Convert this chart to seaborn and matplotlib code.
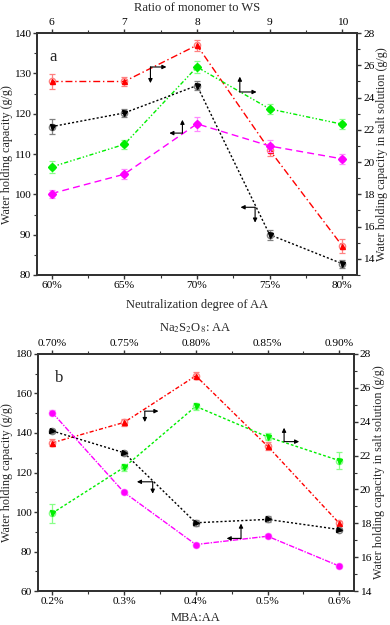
import numpy as np
import pandas as pd
import matplotlib
matplotlib.use("Agg")
import matplotlib.pyplot as plt
import seaborn as sns

# ---- data, panel a ----
a_bottom = ['60%', '65%', '70%', '75%', '80%']
a_top = ['6', '7', '8', '9', '10']
a_black = [116.8, 120.2, 127.0, 90.0, 82.8]      # left axis
a_black_err = [1.8, 1.0, 1.2, 1.2, 1.0]
a_pink = [100.2, 105.0, 117.5, 112.0, 108.8]     # left axis
a_pink_err = [1.0, 1.2, 1.8, 1.5, 1.2]
a_red = [25.0, 25.0, 27.25, 20.75, 14.8]         # right axis
a_red_err = [0.45, 0.3, 0.35, 0.4, 0.45]
a_green = [19.7, 21.1, 25.9, 23.3, 22.35]        # right axis
a_green_err = [0.4, 0.3, 0.35, 0.3, 0.3]

# ---- data, panel b ----
b_bottom = ['0.2%', '0.3%', '0.4%', '0.5%', '0.6%']
b_top = ['0.70%', '0.75%', '0.80%', '0.85%', '0.90%']
b_black = [141.0, 130.0, 94.6, 96.3, 91.2]       # left axis
b_black_err = [1.0, 1.0, 1.5, 1.5, 1.0]
b_pink = [150.3, 110.0, 83.6, 87.8, 72.7]        # left axis
b_pink_err = [1.5, 1.0, 1.0, 1.0, 1.2]
b_red = [22.75, 23.95, 26.7, 22.55, 18.0]        # right axis
b_red_err = [0.2, 0.2, 0.2, 0.25, 0.15]
b_green = [18.6, 21.3, 24.9, 23.1, 21.7]         # right axis
b_green_err = [0.55, 0.2, 0.2, 0.2, 0.5]

sns.set_theme(style="ticks")
plt.rcParams['font.family'] = ['Liberation Serif', 'DejaVu Serif']
plt.rcParams['mathtext.fontset'] = 'stix'

edge = '#333333'
fig = plt.figure(figsize=(3.9, 6.25), dpi=100)


def series(ax, vals, err, col, light, mk, ls):
    x = np.arange(len(vals))
    df = pd.DataFrame({'x': x, 'y': vals})
    sns.lineplot(data=df, x='x', y='y', ax=ax, color=col, linestyle=ls, lw=1.0, zorder=2)
    ax.errorbar(x, vals, yerr=err, fmt='o', mfc='none', mec=light, ms=4.5,
                ecolor=light, elinewidth=0.9, capsize=2.5, capthick=0.9, zorder=3)
    ax.plot(x, vals, linestyle='none', marker=mk, color=col, ms=3.6, zorder=4)


def arrow(ax, x, y, dx, dy):
    ax.annotate('', xy=(x + dx, y + dy), xytext=(x, y),
                arrowprops=dict(arrowstyle='-|>', color='black', lw=0.8,
                                mutation_scale=6, shrinkA=0, shrinkB=0))


def panel(rect, ylim_l, yticks_l, ylim_r, yticks_r, bot, top, xlab, toplab, letter, lx, bpad, ylx):
    ax = fig.add_axes(rect)
    axr = ax.twinx()
    axt = ax.twiny()
    for a in (ax, axr, axt):
        a.set_xlim(-0.2, 4.2)
        for s in a.spines.values():
            s.set_color(edge)
            s.set_linewidth(1.3)
        a.tick_params(colors=edge, labelcolor='black', labelsize=8.2, width=1.0,
                      length=3, direction='out', pad=1.5)
        a.tick_params(which='minor', colors=edge, width=0.8, length=2, direction='out')
        a.grid(False)
    ax.set_ylim(*ylim_l)
    ax.set_yticks(yticks_l)
    ax.set_yticks(np.arange(yticks_l[0], yticks_l[-1] + 0.1, (yticks_l[1] - yticks_l[0]) / 2),
                  minor=True)
    axr.set_ylim(*ylim_r)
    axr.set_yticks(yticks_r)
    axr.set_yticks(np.arange(yticks_r[0] - 1, yticks_r[-1] + 0.1, 1), minor=True)
    axr.set_ylim(*ylim_r)
    ax.set_xticks(range(5))
    ax.set_xticklabels(bot)
    ax.set_xticks(np.arange(0.5, 4, 1), minor=True)
    axt.set_xticks(range(5))
    axt.set_xticklabels(top)
    axt.set_xticks(np.arange(0.5, 4, 1), minor=True)
    ax.set_xlabel(xlab, fontsize=9, labelpad=bpad)
    axt.set_xlabel(toplab, fontsize=9, labelpad=5)
    ax.set_ylabel('Water holding capacity (g/g)', fontsize=8.7)
    ax.yaxis.set_label_coords(ylx, 0.5)
    axr.set_ylabel('Water holding capacity in salt solution (g/g)', fontsize=8.7)
    axr.yaxis.set_label_coords(1.06, 0.5)
    ax.text(lx, 0.9, letter, transform=ax.transAxes, fontsize=12, va='center')
    ax.set_zorder(axr.get_zorder() + 1)
    ax.patch.set_visible(False)
    return ax, axr


# panel a
ax, axr = panel([0.095, 0.56, 0.82, 0.387], (80, 140), [80, 90, 100, 110, 120, 130, 140],
                (13, 28), [14, 16, 18, 20, 22, 24, 26, 28],
                a_bottom, a_top, 'Neutralization degree of AA', 'Ratio of monomer to WS', 'a',
                0.04, 6, -0.076)
series(axr, a_red, a_red_err, '#ff0000', '#ff8080', '^', (0, (5, 2, 1, 2)))
series(axr, a_green, a_green_err, '#00ee00', '#88ff88', 'D', (0, (3, 1.5, 1, 1.5, 1, 1.5)))
series(ax, a_black, a_black_err, '#000000', '#808080', 'v', (0, (1.5, 1.5)))
series(ax, a_pink, a_pink_err, '#ff00ff', '#ff88ff', 'D', (0, (5, 3)))
arrow(ax, 1.36, 131.6, 0.22, 0)
arrow(ax, 1.36, 131.6, 0, -4.0)
arrow(ax, 2.59, 125.4, 0, 3.8)
arrow(ax, 2.59, 125.4, 0.23, 0)
arrow(ax, 1.80, 115.2, -0.18, 0)
arrow(ax, 1.80, 115.2, 0, 3.3)
arrow(ax, 2.80, 96.8, -0.2, 0)
arrow(ax, 2.80, 96.8, 0, -3.8)

# panel b
ax, axr = panel([0.097, 0.054, 0.81, 0.38], (60, 180), [60, 80, 100, 120, 140, 160, 180],
                (14, 28), [14, 16, 18, 20, 22, 24, 26, 28],
                b_bottom, b_top, 'MBA:AA', r'Na$_2$S$_2$O$_8$: AA', 'b', 0.055, 4, -0.08)
series(axr, b_red, b_red_err, '#ff0000', '#ff8080', '^', (0, (3, 1.5, 1, 1.5)))
series(axr, b_green, b_green_err, '#00ee00', '#88ff88', 'v', (0, (2, 1.5)))
series(ax, b_black, b_black_err, '#000000', '#808080', '>', (0, (1.5, 1.5)))
series(ax, b_pink, b_pink_err, '#ff00ff', '#ff88ff', 'o', (0, (4, 1, 1, 1)))
arrow(ax, 1.29, 151.0, 0.19, 0)
arrow(ax, 1.29, 151.0, 0, -5.5)
arrow(ax, 3.23, 135.6, 0, 7.0)
arrow(ax, 3.23, 135.6, 0.21, 0)
arrow(ax, 1.40, 115.3, -0.22, 0)
arrow(ax, 1.40, 115.3, 0, -6.0)
arrow(ax, 2.63, 86.7, -0.2, 0)
arrow(ax, 2.63, 86.7, 0, 7.5)

fig.savefig('out.png', dpi=100)
